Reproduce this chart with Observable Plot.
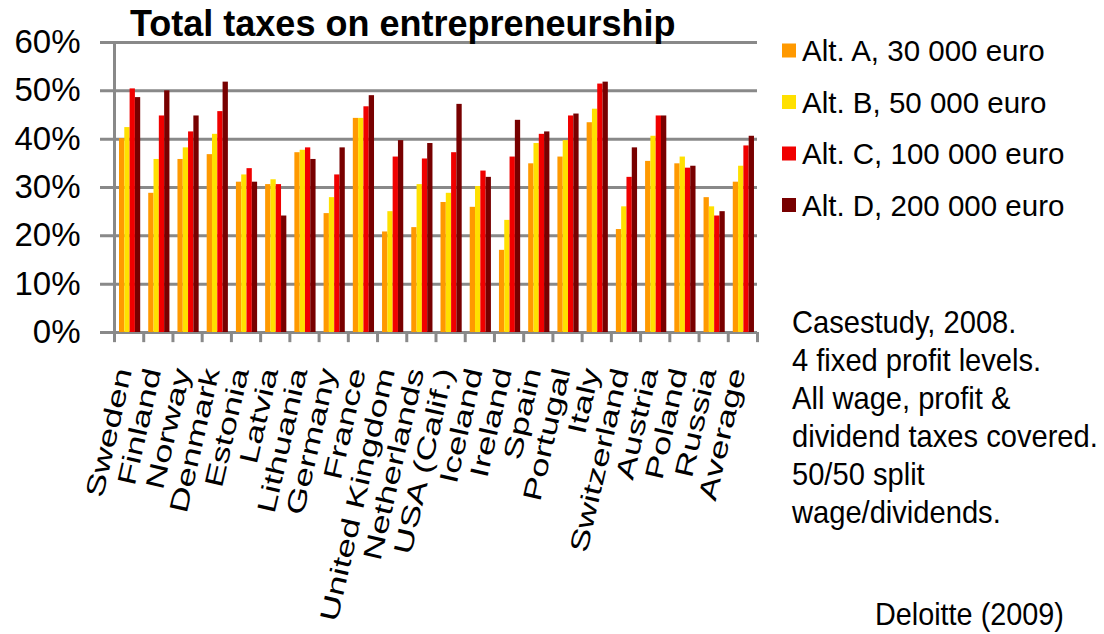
<!DOCTYPE html>
<html>
<head>
<meta charset="utf-8">
<script src="https://cdn.jsdelivr.net/npm/d3@7"></script>
<script src="https://cdn.jsdelivr.net/npm/@observablehq/plot@0.6"></script>
<style>
  html, body { margin: 0; padding: 0; background: #fff; }
  #chart svg { display: block; }
</style>
</head>
<body>
<div id="chart"></div>
<script>
// Categories (countries) in display order
const countries = [
  "Sweden", "Finland", "Norway", "Denmark", "Estonia", "Latvia", "Lithuania",
  "Germany", "France", "United Kingdom", "Netherlands", "USA (Calif.)", "Iceland",
  "Ireland", "Spain", "Portugal", "Italy", "Switzerland", "Austria", "Poland",
  "Russia", "Average"
];

// Series names (profit levels)
const seriesNames = [
  "Alt. A, 30 000 euro",
  "Alt. B, 50 000 euro",
  "Alt. C, 100 000 euro",
  "Alt. D, 200 000 euro"
];

// Total tax rate (%) per country, one array per profit level
const altA = [40.1, 28.8, 35.8, 36.8, 31.1, 30.6, 37.2, 24.6, 44.3, 20.8, 21.7, 26.9, 25.9, 17.0, 34.9, 36.3, 43.4, 21.3, 35.4, 34.9, 27.9, 31.1];
const altB = [42.4, 35.8, 38.2, 41.0, 32.6, 31.6, 37.7, 27.9, 44.3, 25.0, 30.6, 28.8, 30.2, 23.2, 39.1, 39.7, 46.2, 26.0, 40.6, 36.3, 26.0, 34.4];
const altC = [50.4, 44.8, 41.5, 45.7, 33.9, 30.6, 38.2, 32.6, 46.7, 36.3, 35.9, 37.2, 33.4, 36.3, 41.0, 44.8, 51.4, 32.1, 44.8, 34.0, 24.1, 38.6];
const altD = [48.6, 50.0, 44.8, 51.8, 31.1, 24.1, 35.8, 38.2, 49.0, 39.7, 39.1, 47.2, 32.1, 43.9, 41.5, 45.2, 51.8, 38.2, 44.8, 34.4, 25.0, 40.6];

// Y axis tick values (%)
const yTicks = [0, 10, 20, 30, 40, 50, 60];

// Texts
const title = "Total taxes on entrepreneurship";
const notes = [
  "Casestudy, 2008.",
  "4 fixed profit levels.",
  "All wage, profit &",
  "dividend taxes covered.",
  "50/50 split",
  "wage/dividends."
];
const source = "Deloitte (2009)";

// Long-format table built from the arrays above
const seriesValues = [altA, altB, altC, altD];
const rows = seriesNames.flatMap((s, i) =>
  countries.map((c, j) => ({country: c, series: s, value: seriesValues[i][j]}))
);

// Layout
const W = 1104, H = 634;
const margin = {top: 42, right: 347, bottom: 302, left: 114};
const band = (W - margin.left - margin.right) / countries.length;
const barW = 5.3, groupOffset = 5;
const gray = "#898989";
const font = "'Liberation Sans', Arial, Helvetica, sans-serif";

const chart = Plot.plot({
  width: W,
  height: H,
  marginTop: margin.top,
  marginRight: margin.right,
  marginBottom: margin.bottom,
  marginLeft: margin.left,
  style: {fontFamily: font, fontSize: "33px", color: "#000", background: "#fff"},
  x: {domain: countries, padding: 0, round: false, axis: null},
  y: {domain: [0, 60], ticks: yTicks, tickFormat: d => d + "%", tickSize: 0, tickPadding: 34, label: null},
  color: {domain: seriesNames, range: ["#FF9900", "#FFE000", "#F00000", "#780000"]},
  marks: [
    // horizontal gridlines, extending left of the axis as outward ticks
    Plot.ruleY(yTicks, {stroke: gray, strokeWidth: 3, insetLeft: -14}),
    // one bar per series inside each country band
    ...seriesNames.map((s, i) =>
      Plot.barY(rows.filter(d => d.series === s), {
        x: "country",
        y: "value",
        fill: "series",
        insetLeft: groupOffset + barW * i,
        insetRight: band - groupOffset - barW * (i + 1)
      })
    ),
    // category boundary ticks under the baseline
    Plot.ruleX(countries, {x: d => d, dx: -band / 2, y1: 0, y2: -2.1, stroke: gray, strokeWidth: 3}),
    Plot.ruleX(countries.slice(-1), {x: d => d, dx: band / 2, y1: 0, y2: -2.1, stroke: gray, strokeWidth: 3}),
    // vertical value axis line
    Plot.ruleX(countries.slice(0, 1), {x: d => d, dx: -band / 2, y1: 0, y2: 60, stroke: gray, strokeWidth: 3}),
    // rotated country labels
    Plot.text(countries, {
      x: d => d,
      frameAnchor: "bottom",
      text: d => d,
      rotate: -77,
      textAnchor: "end",
      fontSize: 26,
      dx: 3,
      dy: 38
    })
  ]
});

document.getElementById("chart").appendChild(chart);

const svg = d3.select(chart);

// widen the rotated labels along their baseline
svg.selectAll('g[aria-label="text"] text')
  .attr("transform", function () { return (this.getAttribute("transform") || "") + " scale(1.4,1)"; });

// title
svg.append("text")
  .attr("x", 130).attr("y", 36)
  .attr("text-anchor", "start")
  .attr("font-size", 36).attr("font-weight", "bold")
  .attr("fill", "#000")
  .text(title);

// legend built from the color scale
const colorScale = chart.scale("color");
const legend = svg.append("g").attr("aria-label", "legend").attr("text-anchor", "start");
seriesNames.forEach((s, i) => {
  const y = 61 + 51.5 * i;
  const fill = colorScale.apply ? colorScale.apply(s) : colorScale.range[i];
  legend.append("rect")
    .attr("x", 782).attr("y", y - 17.5).attr("width", 14).attr("height", 14)
    .attr("fill", fill);
  legend.append("text")
    .attr("x", 802).attr("y", y)
    .attr("font-size", 29.5).attr("fill", "#000")
    .text(s);
});

// notes block
const notesG = svg.append("g").attr("text-anchor", "start")
  .attr("transform", "translate(792,333) scale(0.91,1)");
notes.forEach((t, i) => {
  notesG.append("text").attr("x", 0).attr("y", 38 * i)
    .attr("font-size", 32).attr("fill", "#000").text(t);
});

// source
svg.append("g").attr("text-anchor", "start")
  .attr("transform", "translate(875,625) scale(0.9,1)")
  .append("text").attr("font-size", 32).attr("fill", "#000").text(source);
</script>
</body>
</html>
